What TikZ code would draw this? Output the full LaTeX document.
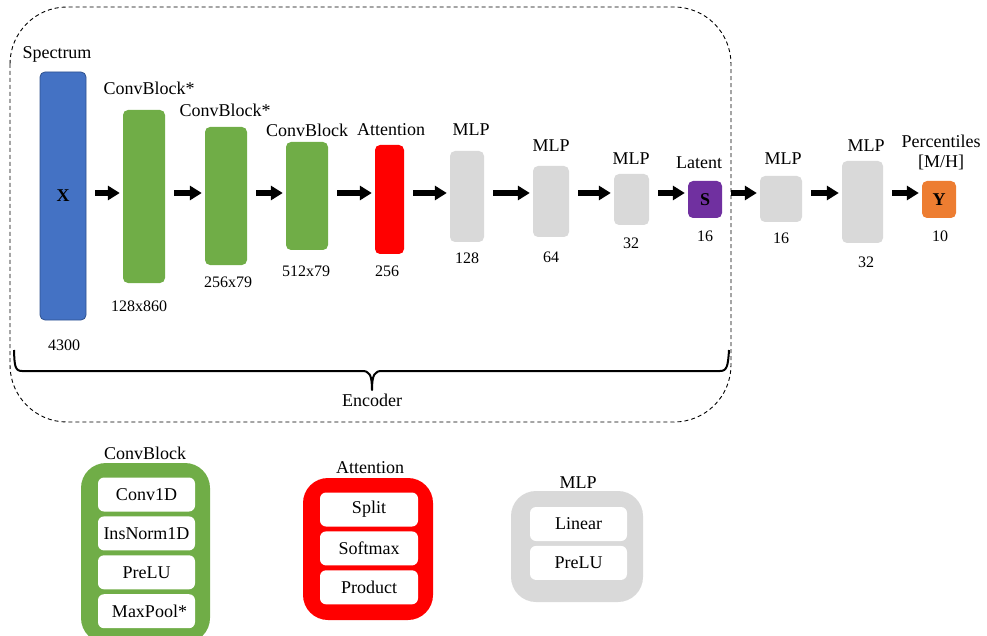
\documentclass[tikz,border=0pt]{standalone}
\usepackage{fontspec}
\setmainfont{Liberation Serif}
\usetikzlibrary{arrows.meta,positioning}

\definecolor{specblue}{HTML}{4472C4}
\definecolor{specline}{HTML}{2F528F}
\definecolor{convgreen}{HTML}{70AD47}
\definecolor{attred}{HTML}{FF0000}
\definecolor{mlpgray}{HTML}{D9D9D9}
\definecolor{latpurple}{HTML}{7030A0}
\definecolor{outorange}{HTML}{ED7D31}

\tikzset{
	layer/.style={rounded corners=5pt,inner sep=0pt,font=\fontsize{18}{20}\selectfont\bfseries},
	lbl/.style={font=\fontsize{18}{20}\selectfont,inner sep=0pt},
	dim/.style={font=\fontsize{16}{18}\selectfont,inner sep=0pt},
	fatarrow/.style={line width=5.5pt,-{Triangle[length=12pt,width=14pt]},shorten <=9pt,shorten >=3pt},
	unitbox/.style={fill=white,rounded corners=6pt,inner sep=0pt,minimum width=97pt,minimum height=34pt,font=\fontsize{18}{20}\selectfont},
	legendbox/.style={rounded corners=25pt,inner sep=0pt},
}

\begin{document}
\begin{tikzpicture}[x=1pt,y=-1pt,node distance=4.5pt]
	\useasboundingbox (0,0) rectangle (987,636);
	\coordinate (axis) at (0,193);

	% encoder frame and brace
	\draw[line width=0.9pt,dash pattern=on 4pt off 3pt,rounded corners=57pt] (10,7) rectangle (731,422);
	\draw[line width=2pt,line join=round] (14,350) .. controls (14.5,366) and (15,371) .. (22,371) -- (362,371)
		.. controls (369,371) and (372,374) .. (372,390) .. controls (372,374) and (375,371) .. (382,371) -- (720,371)
		.. controls (727,371) and (728,366) .. (729,350);
	\node[lbl] (enc) at (372,400) {Encoder};

	% layers
	\node[layer,fill=specblue,draw=specline,line width=0.8pt,minimum width=46pt,minimum height=248pt] (X) at (63,196) {X};
	\node[layer,fill=convgreen,minimum width=42pt,minimum height=173pt] (conv1) at (144,196.5) {};
	\node[layer,fill=convgreen,minimum width=42pt,minimum height=138pt] (conv2) at (226,196) {};
	\node[layer,fill=convgreen,minimum width=42pt,minimum height=108pt] (conv3) at (307,196) {};
	\node[layer,fill=attred,minimum width=29pt,minimum height=109pt] (att) at (389.5,199.5) {};
	\node[layer,fill=mlpgray,minimum width=34pt,minimum height=91pt] (mlpa) at (467,196.5) {};
	\node[layer,fill=mlpgray,minimum width=36pt,minimum height=71pt] (mlpb) at (551,201.5) {};
	\node[layer,fill=mlpgray,minimum width=35pt,minimum height=51pt] (mlpc) at (631.5,199.5) {};
	\node[layer,fill=latpurple,minimum width=34pt,minimum height=37pt] (lat) at (705,199.5) {S};
	\node[layer,fill=mlpgray,minimum width=42pt,minimum height=46pt] (mlpd) at (781,199) {};
	\node[layer,fill=mlpgray,minimum width=41pt,minimum height=82pt] (mlpe) at (862.5,202) {};
	\node[layer,fill=outorange,minimum width=34pt,minimum height=37pt] (out) at (939,199.5) {Y};

	\foreach \a/\b in {X/conv1,conv1/conv2,conv2/conv3,conv3/att,att/mlpa,mlpa/mlpb,mlpb/mlpc,mlpc/lat,lat/mlpd,mlpd/mlpe,mlpe/out}
		\draw[fatarrow] (\a.east |- axis) -- (\b.west |- axis);

	% names on top
	\node[lbl] (tX) at (57,54) {Spectrum};
	\node[lbl] (tconv1) at (149,88) {ConvBlock*};
	\node[lbl] (tconv2) at (225,110) {ConvBlock*};
	\node[lbl] (tconv3) at (307,130) {ConvBlock};
	\node[lbl] (tatt) at (391,130) {Attention};
	\node[lbl] (tmlpa) at (471,130) {MLP};
	\node[lbl] (tmlpb) at (551,146) {MLP};
	\node[lbl] (tmlpc) at (631,159) {MLP};
	\node[lbl] (tlat) at (699,163) {Latent};
	\node[lbl] (tmlpd) at (783,159) {MLP};
	\node[lbl] (tmlpe) at (866,146) {MLP};
	\node[lbl,align=center] (tout) at (941,152) {Percentiles\\{[M/H]}};

	% sizes below
	\node[dim] (dX) at (64,345) {4300};
	\node[dim] (dconv1) at (139,306) {128x860};
	\node[dim] (dconv2) at (228,282) {256x79};
	\node[dim] (dconv3) at (306,271) {512x79};
	\node[dim] (datt) at (387,271) {256};
	\node[dim] (dmlpa) at (467,258) {128};
	\node[dim] (dmlpb) at (551,257) {64};
	\node[dim] (dmlpc) at (631,243) {32};
	\node[dim] (dlat) at (705,236) {16};
	\node[dim] (dmlpd) at (781,238) {16};
	\node[dim] (dmlpe) at (866,262) {32};
	\node[dim] (dout) at (940,236) {10};

	% what is inside each block
	\node[legendbox,fill=convgreen,minimum width=129pt,minimum height=180pt] (cbbox) at (145.5,553) {};
	\node[lbl] (cbtitle) at (145,453) {ConvBlock};
	\node[unitbox] (conv1d) at (146.5,494.5) {Conv1D};
	\node[unitbox,below=of conv1d] (insnorm) {InsNorm1D};
	\node[unitbox,below=of insnorm] (cbprelu) {PreLU};
	\node[unitbox,below=of cbprelu] (maxpool) {\hspace{6pt}MaxPool*};

	\node[legendbox,fill=attred,minimum width=130pt,minimum height=142pt] (attbox) at (368,549) {};
	\node[lbl] (atttitle) at (370,468) {Attention};
	\node[unitbox,minimum width=98pt] (split) at (369,509.5) {Split};
	\node[unitbox,minimum width=98pt,below=of split] (softmax) {Softmax};
	\node[unitbox,minimum width=98pt,below=of softmax] (product) {Product};

	\node[legendbox,fill=mlpgray,minimum width=132pt,minimum height=111pt] (mlpbox) at (577,546.5) {};
	\node[lbl] (mlptitle) at (578,483) {MLP};
	\node[unitbox] (linear) at (578.5,524) {Linear};
	\node[unitbox,below=of linear] (mlpprelu) {PreLU};
\end{tikzpicture}
\end{document}
